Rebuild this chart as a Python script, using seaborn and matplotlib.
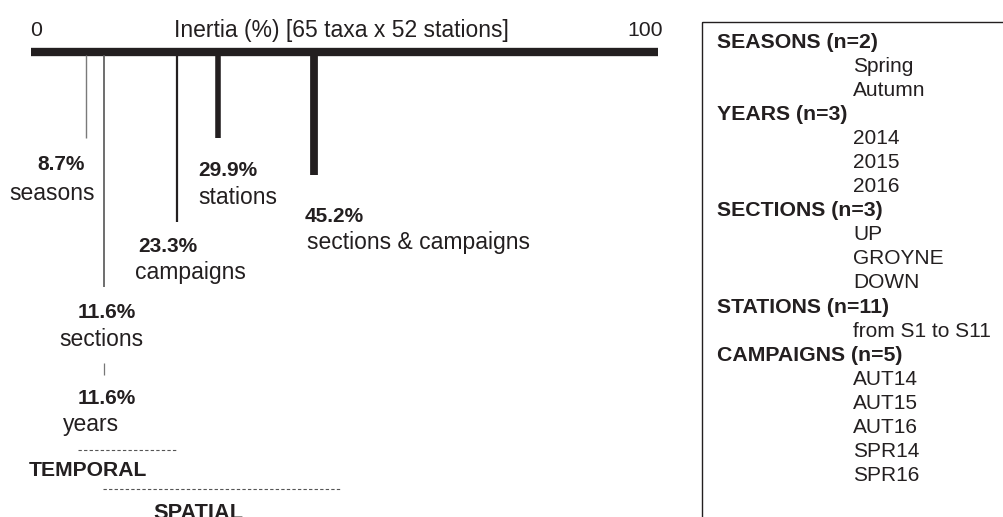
import matplotlib
matplotlib.use("Agg")
import matplotlib.pyplot as plt
import seaborn as sns
import pandas as pd

# Inertia (%) explained by each factor
components = ["seasons", "sections", "campaigns", "stations", "sections & campaigns", "years"]
inertia = [8.7, 11.6, 23.3, 29.9, 45.2, 11.6]

axis_ends = [0, 100]
axis_title = "Inertia (%) [65 taxa x 52 stations]"

# Factor descriptions for the side panel
factor_headers = ["SEASONS (n=2)", "YEARS (n=3)", "SECTIONS (n=3)", "STATIONS (n=11)", "CAMPAIGNS (n=5)"]
factor_levels = [
    ["Spring", "Autumn"],
    ["2014", "2015", "2016"],
    ["UP", "GROYNE", "DOWN"],
    ["from S1 to S11"],
    ["AUT14", "AUT15", "AUT16", "SPR14", "SPR16"],
]

sns.set_theme(style="white")
plt.rcParams["font.family"] = ["Liberation Sans", "DejaVu Sans"]

INK = "#231f20"
W, H = 1004, 517
X0, SCALE = 31.0, 6.27  # pixel of 0 % and pixels per %

fig = plt.figure(figsize=(W / 100, H / 100), dpi=100)
ax = fig.add_axes([0, 0, 1, 1])
ax.set_xlim(-X0 / SCALE, (W - X0) / SCALE)
ax.set_ylim(H, 0)
ax.axis("off")


def px(x):
    """Horizontal pixel position to inertia units."""
    return (x - X0) / SCALE


# Main inertia axis (0 - 100 %)
bar = pd.DataFrame({"x": axis_ends, "y": [52, 52]})
sns.lineplot(data=bar, x="x", y="y", ax=ax, color=INK, linewidth=6.0,
             solid_capstyle="butt", estimator=None, sort=False)

ax.text(axis_ends[0] + 0.8, 30, str(axis_ends[0]), ha="center", va="center", fontsize=15.3, color=INK)
ax.text(axis_ends[1] - 2.0, 30, str(axis_ends[1]), ha="center", va="center", fontsize=15.3, color=INK)
ax.text(px(341), 30, axis_title, ha="center", va="center", fontsize=16.5, color=INK)

# Drop lines for each component
drops = {
    "seasons": dict(bottom=138, lw=1.0, color="#7a7a7a"),
    "sections": dict(bottom=287, lw=1.2, color="#555555"),
    "campaigns": dict(bottom=222, lw=1.6, color=INK),
    "stations": dict(bottom=138, lw=4.0, color=INK),
    "sections & campaigns": dict(bottom=175, lw=5.6, color=INK),
}
df = pd.DataFrame({"component": components, "inertia": inertia})
for _, row in df.iterrows():
    if row["component"] in drops:
        st = drops[row["component"]]
        ax.vlines(row["inertia"], 55, st["bottom"], colors=st["color"], linewidth=st["lw"])

val = dict(zip(components, inertia))

# Labels: (component, pct x, pct y, name x, name y, name alignment)
labels = [
    ("seasons", 37, 165, 52, 193, "center"),
    ("stations", 198, 170, 198, 197, "left"),
    ("campaigns", 138, 247, 135, 272, "left"),
    ("sections & campaigns", 305, 217, 307, 243, "left"),
    ("sections", 78, 312, 101, 340, "center"),
    ("years", 78, 398, 63, 425, "left"),
]
for name, vx, vy, nx, ny, nha in labels:
    ax.text(px(vx), vy, f"{val[name]}%", ha="left", va="center",
            fontsize=15, fontweight="bold", color=INK)
    ax.text(px(nx), ny, name, ha=nha, va="center", fontsize=16.5, color=INK)

# Link between the two 11.6 % components
ax.vlines(val["years"], 363, 375, colors="#777777", linewidth=0.9)

# Temporal / spatial groupings
ax.hlines(450, px(78), px(176), colors="#555555", linewidth=0.8, linestyles=(0, (3, 2)))
ax.text(px(29), 470, "TEMPORAL", ha="left", va="center", fontsize=15.2, fontweight="bold", color=INK)
ax.hlines(489, px(103), px(340), colors="#555555", linewidth=0.8, linestyles=(0, (3, 2)))
ax.text(px(153), 503, "SPATIAL", ha="left", va="top", fontsize=15.7, fontweight="bold", color=INK)

# Side panel with factor levels (open towards the right and bottom)
ax.add_patch(plt.Rectangle((px(702), 22), px(1030) - px(702), 520, fill=False,
                           edgecolor=INK, linewidth=1.0))
y = 42.0
step = 24.1
for header, levels in zip(factor_headers, factor_levels):
    ax.text(px(717), y, header, ha="left", va="center", fontsize=15.3, fontweight="bold", color=INK)
    y += step
    for lev in levels:
        ax.text(px(853), y, lev, ha="left", va="center", fontsize=15, color=INK)
        y += step

fig.savefig("out.png", dpi=100, facecolor="white")
